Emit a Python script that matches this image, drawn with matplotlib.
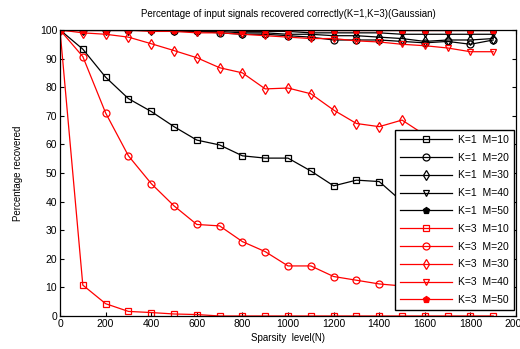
import matplotlib
matplotlib.use('Agg')
import matplotlib.pyplot as plt

plt.rcParams['font.family'] = ['Liberation Sans', 'DejaVu Sans']

# sparsity levels (N)
sparsity = [0, 100, 200, 300, 400, 500, 600, 700, 800, 900,
            1000, 1100, 1200, 1300, 1400, 1500, 1600, 1700, 1800, 1900]

# percentage recovered, K=1
k1_m10 = [100, 93.3, 83.5, 76, 71.5, 66.2, 61.5, 59.8, 56, 55.2,
          55.2, 50.7, 45.5, 47.5, 47, 40, 37, 35, 33, 31]
k1_m20 = [100, 100, 100, 100, 100, 99.5, 99.5, 99, 98.5, 98.5,
          98, 97.5, 96.5, 96.5, 96.5, 96, 95.5, 96, 95, 96.5]
k1_m30 = [100, 100, 100, 100, 100, 100, 99.5, 99.5, 99, 99,
          98.5, 98.5, 98, 98, 97.5, 97, 96, 96.5, 96.5, 97]
k1_m40 = [100, 100, 100, 100, 100, 100, 100, 100, 99.5, 99.5,
          99.5, 99, 99, 99, 99, 98.5, 98.5, 98.5, 98.5, 98.5]
k1_m50 = [100] * 20

# percentage recovered, K=3
k3_m10 = [100, 10.8, 4.3, 1.6, 1.2, 0.7, 0.5, 0, 0, 0,
          0, 0, 0, 0, 0, 0, 0, 0, 0, 0]
k3_m20 = [100, 90.7, 71, 56, 46.3, 38.5, 32, 31.5, 26, 22.5,
          17.5, 17.5, 13.8, 12.5, 11.2, 10.5, 10, 9.5, 9, 8.5]
k3_m30 = [100, 99, 98.5, 97.5, 95.2, 92.8, 90.3, 86.8, 85, 79.4,
          79.7, 77.7, 72, 67.3, 66.2, 68.5, 63.3, 60, 57, 54]
k3_m40 = [100, 100, 100, 100, 99.5, 99.5, 99, 99, 98.5, 98,
          97.5, 97, 97, 96.2, 95.8, 95, 94.5, 93.7, 92.4, 92.4]
k3_m50 = [100] * 20

series = [
    ('K=1  M=10', k1_m10, 'black', 's', 'none'),
    ('K=1  M=20', k1_m20, 'black', 'o', 'none'),
    ('K=1  M=30', k1_m30, 'black', 'd', 'none'),
    ('K=1  M=40', k1_m40, 'black', 'v', 'none'),
    ('K=1  M=50', k1_m50, 'black', 'p', 'black'),
    ('K=3  M=10', k3_m10, 'red', 's', 'none'),
    ('K=3  M=20', k3_m20, 'red', 'o', 'none'),
    ('K=3  M=30', k3_m30, 'red', 'd', 'none'),
    ('K=3  M=40', k3_m40, 'red', 'v', 'none'),
    ('K=3  M=50', k3_m50, 'red', 'p', 'red'),
]

fig = plt.figure(figsize=(5.2, 3.49), dpi=100)
ax = fig.add_axes([0.1154, 0.0946, 0.877, 0.8195])

for label, vals, color, marker, fill in series:
    ax.plot(sparsity, vals, color=color, marker=marker, markersize=5,
            markerfacecolor=fill, markeredgecolor=color,
            markeredgewidth=0.9, linewidth=0.9, label=label)

ax.set_xlim(0, 2000)
ax.set_ylim(0, 100)
ax.set_xticks(range(0, 2001, 200))
ax.set_yticks(range(0, 101, 10))
ax.tick_params(direction='in', top=True, right=True, labelsize=7.5,
               length=3, width=0.8, pad=2)
for s in ax.spines.values():
    s.set_linewidth(0.9)

ax.set_title('Percentage of input signals recovered correctly(K=1,K=3)(Gaussian)',
             fontsize=7, pad=9)
ax.set_xlabel('Sparsity  level(N)', fontsize=7, labelpad=3)
ax.set_ylabel('Percentage recovered', fontsize=7, labelpad=12)

leg = ax.legend(loc='lower right', bbox_to_anchor=(0.995, 0.02),
                fontsize=7.5, handlelength=5.0, labelspacing=0.75,
                borderpad=0.5, handletextpad=0.5, fancybox=False,
                framealpha=1, borderaxespad=0.0)
leg.get_frame().set_edgecolor('black')
leg.get_frame().set_linewidth(1.0)

fig.savefig('out.png', dpi=100)
